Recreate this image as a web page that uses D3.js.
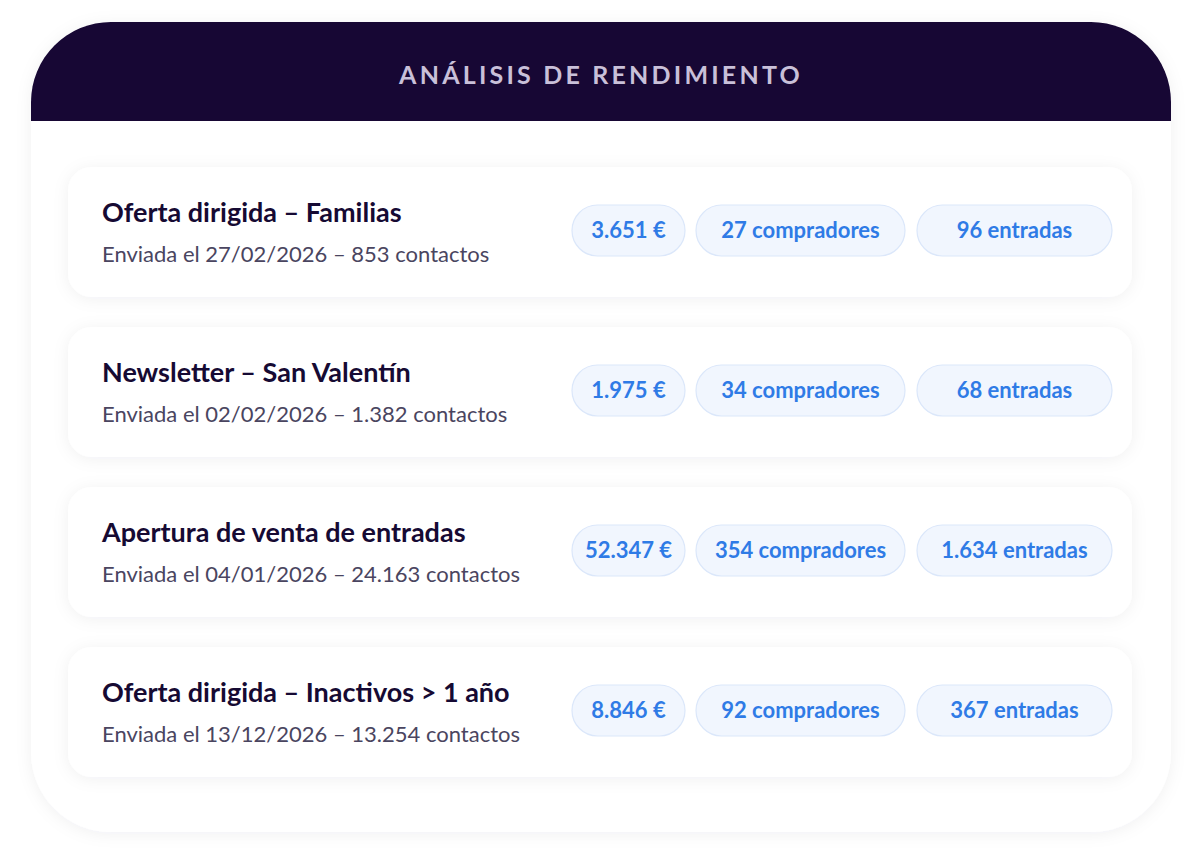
<!DOCTYPE html>
<html><head><meta charset="utf-8">
<script src="https://cdn.jsdelivr.net/npm/d3@7"></script>
<style>body{margin:0;background:#fff}svg{display:block;font-family:Lato,"Noto Sans",sans-serif}</style>
</head><body><svg id="c" width="1200" height="853"></svg>
<script>
/* ---------- data ---------- */
const campaigns = ["Oferta dirigida – Familias", "Newsletter – San Valentín", "Apertura de venta de entradas", "Oferta dirigida – Inactivos > 1 año"];
const sentDates = ["27/02/2026", "02/02/2026", "04/01/2026", "13/12/2026"];
const contacts = [853, 1382, 24163, 13254];
const revenue = [3651, 1975, 52347, 8846];
const buyers = [27, 34, 354, 92];
const tickets = [96, 68, 1634, 367];

const fmt = d3.formatLocale({decimal: ",", thousands: ".", grouping: [3], currency: ["", " €"]}).format(",d");
const rows = campaigns.map((c, i) => ({
  title: c,
  sub: `Enviada el ${sentDates[i]} – ${fmt(contacts[i])} contactos`,
  pills: [fmt(revenue[i]) + " €", buyers[i] + " compradores", fmt(tickets[i]) + " entradas"]
}));

const svg = d3.select("#c");
const defs = svg.append("defs");
const sh = defs.append("filter").attr("id", "sh").attr("x", "-10%").attr("y", "-20%").attr("width", "120%").attr("height", "140%");
sh.append("feDropShadow").attr("dx", 0).attr("dy", 2).attr("stdDeviation", 8).attr("flood-color", "#1a1040").attr("flood-opacity", 0.06);

/* ---------- outer card ---------- */
const X0 = 31, X1 = 1171, Y0 = 22, Y1 = 832, R = 80, HB = 121;
svg.append("rect").attr("x", X0).attr("y", Y0).attr("width", X1 - X0).attr("height", Y1 - Y0)
  .attr("rx", R).attr("fill", "#fff").attr("filter", "url(#sh)");
svg.append("path").attr("fill", "#170734")
  .attr("d", `M${X0},${HB}V${Y0 + R}A${R},${R} 0 0 1 ${X0 + R},${Y0}H${X1 - R}A${R},${R} 0 0 1 ${X1},${Y0 + R}V${HB}Z`);
svg.append("text").attr("x", 601).attr("y", 84).attr("text-anchor", "middle")
  .attr("fill", "#c9c0d9").attr("font-size", 25).attr("font-weight", 700).attr("letter-spacing", 3.2)
  .text("ANÁLISIS DE RENDIMIENTO");

/* ---------- rows: step 160, card 130 ---------- */
const y = d3.scaleBand().domain(d3.range(rows.length)).range([152, 152 + 160 * rows.length])
  .paddingInner(30 / 160).paddingOuter(15 / 160);
const pillX = [572, 696, 917], pillW = [113, 209, 195];

const g = svg.selectAll("g.row").data(rows).join("g").attr("class", "row")
  .attr("transform", (d, i) => `translate(0,${y(i)})`);
g.append("rect").attr("x", 68).attr("width", 1064).attr("height", y.bandwidth()).attr("rx", 24)
  .attr("fill", "#fff").attr("filter", "url(#sh)");
g.append("text").attr("x", 102).attr("y", 55).attr("fill", "#160a33").attr("font-size", 27).attr("font-weight", 700)
  .text(d => d.title);
g.append("text").attr("x", 102).attr("y", 95).attr("fill", "#4a4560").attr("font-size", 22)
  .text(d => d.sub);

const p = g.selectAll("g.pill").data(d => d.pills).join("g").attr("class", "pill")
  .attr("transform", (d, j) => `translate(${pillX[j]},38)`);
p.append("rect").attr("width", (d, j) => pillW[j]).attr("height", 51).attr("rx", 25.5)
  .attr("fill", "#f1f6fe").attr("stroke", "#dbe7fa").attr("stroke-width", 1.2);
p.append("text").attr("x", (d, j) => pillW[j] / 2).attr("y", 33).attr("text-anchor", "middle")
  .attr("fill", "#2f7be6").attr("font-size", 22).attr("font-weight", 700).text(d => d);
</script></body></html>
